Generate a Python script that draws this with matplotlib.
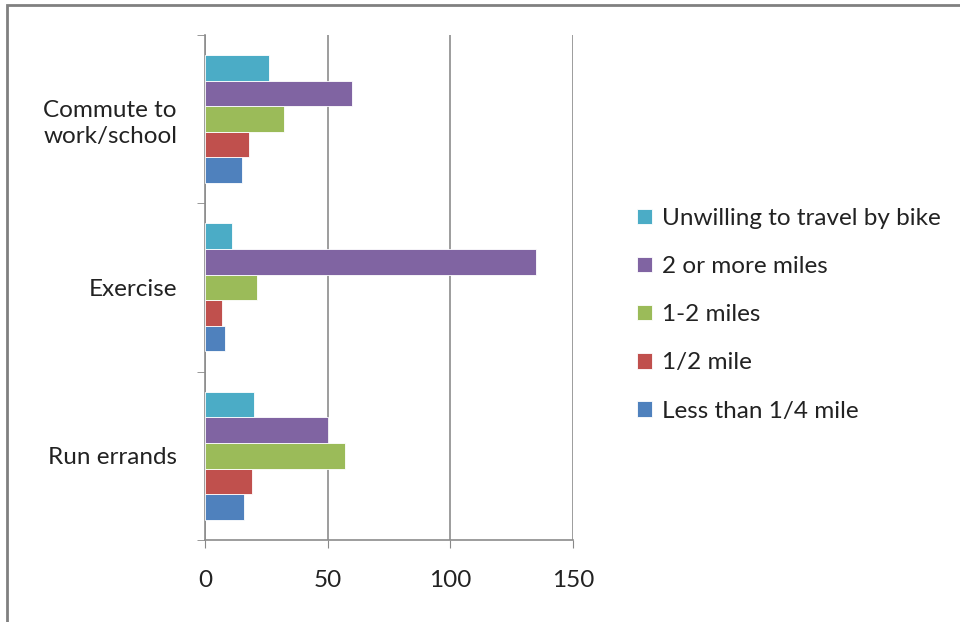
import matplotlib.pyplot as plt
import numpy as np
from matplotlib.patches import Rectangle

plt.rcParams['font.family'] = ['Lato', 'DejaVu Sans']

# categories bottom to top, as the axis draws them
categories = ['Run errands', 'Exercise', 'Commute to\nwork/school']
series = ['Less than 1/4 mile', '1/2 mile', '1-2 miles', '2 or more miles',
          'Unwilling to travel by bike']
less_quarter = [16, 8, 15]
half_mile = [19, 7, 18]
one_two = [57, 21, 32]
two_more = [50, 135, 60]
unwilling = [20, 11, 26]
colors = ['#4F81BD', '#C0504D', '#9BBB59', '#8064A2', '#4BACC6']

values = [less_quarter, half_mile, one_two, two_more, unwilling]

fig = plt.figure(figsize=(9.6, 6.22), dpi=100)
ax = fig.add_axes([0.2135, 0.132, 0.3835, 0.812])

y = np.arange(len(categories))
h = 0.152
for i, (vals, c, name) in enumerate(zip(values, colors, series)):
    ax.barh(y + (i - 2) * h, vals, height=h, color=c, label=name,
            edgecolor='white', linewidth=0.6, zorder=3)

ax.set_xlim(0, 150)
ax.set_ylim(-0.5, 2.5)
ax.set_xticks([0, 50, 100, 150])
ax.set_yticks(y)
ax.set_yticklabels(categories, multialignment='center', linespacing=1.3)
ax.set_yticks([-0.5, 0.5, 1.5, 2.5], minor=True)
ax.tick_params(axis='y', which='major', length=0, pad=20, labelsize=17.5, colors='#222222')
ax.tick_params(axis='y', which='minor', length=6, color='#888888')
ax.tick_params(axis='x', length=6, color='#888888', pad=16, labelsize=17.5, labelcolor='#222222')
ax.grid(axis='x', color='#8c8c8c', linewidth=1.2, zorder=0)
for s in ['top', 'right']:
    ax.spines[s].set_visible(False)
for s in ['left', 'bottom']:
    ax.spines[s].set_color('#8c8c8c')
    ax.spines[s].set_linewidth(1.2)

handles, labels = ax.get_legend_handles_labels()
fig.legend(handles[::-1], labels[::-1], loc='center left', bbox_to_anchor=(0.641, 0.494),
           frameon=False, fontsize=17.5, handlelength=0.6, handleheight=0.6,
           handletextpad=0.4, labelspacing=1.12, labelcolor='#222222')

fig.patches.append(Rectangle((7 / 960, -0.1), 1.2, 1 - 5 / 622 + 0.1, transform=fig.transFigure,
                             fill=False, edgecolor='#808080', linewidth=2))

fig.savefig('out.png', dpi=100)
